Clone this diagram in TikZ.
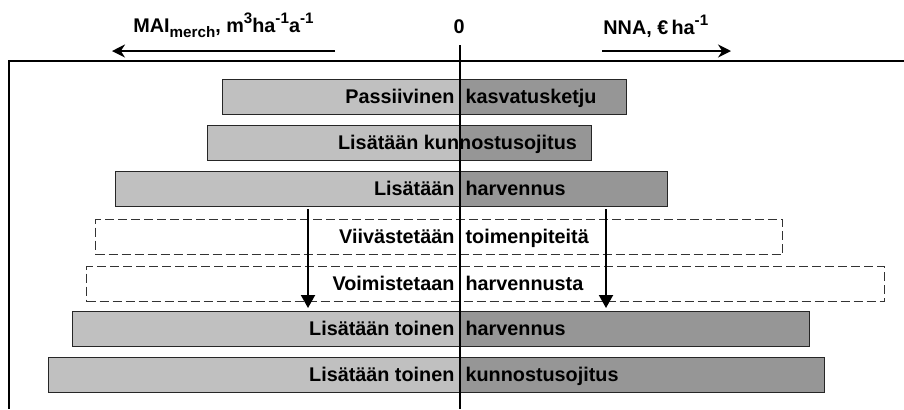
\documentclass[tikz,border=0pt]{standalone}
\usepackage{fontspec}
\setmainfont{Liberation Sans}
\usetikzlibrary{arrows.meta}
\definecolor{lightbar}{HTML}{C0C0C0}
\definecolor{darkbar}{HTML}{969696}
\newcommand\upidx[1]{\raisebox{0.42em}{\fontsize{7.6}{8}\selectfont #1}}
\newcommand\downidx[1]{\raisebox{-0.28em}{\fontsize{7.6}{8}\selectfont #1}}

\tikzset{
  bartext/.style={font=\bfseries\fontsize{9.9}{11}\selectfont, inner xsep=2.6pt, inner ysep=0pt},
  toplabel/.style={font=\bfseries\fontsize{9.9}{11}\selectfont, inner sep=0pt},
  barbox/.style={draw=black!85, line width=0.55pt, inner sep=0pt, anchor=north west, minimum height=17.5pt},
  dashbox/.style={barbox, draw=black!80, dash pattern=on 4.5pt off 2pt},
  axisarrow/.style={line width=1pt, -{Stealth[length=6.5pt,width=6.5pt]}},
  downarrow/.style={line width=1pt, -{Triangle[length=6.5pt,width=7pt]}, shorten <=1pt, shorten >=1.5pt}
}

\begin{document}
\begin{tikzpicture}[x=0.5pt,y=-0.5pt]
\useasboundingbox (0,0) rectangle (904,409);
\draw[line width=0.65pt] (904,61) -- (9,61) -- (9,409);

\node[toplabel, anchor=base west] (mai) at (133,32) {MAI\downidx{merch}, m\upidx{3}ha\upidx{-1}a\upidx{-1}};
\node[toplabel, anchor=base] (zero) at (459,33) {0};
\node[toplabel, anchor=base west] (nna) at (603,34) {NNA, €\,ha\upidx{-1}};
\coordinate (mai-a) at (335,51);
\coordinate (mai-b) at (112,51);
\coordinate (nna-a) at (602,51);
\coordinate (nna-b) at (731,51);
\draw[axisarrow] (mai-a) -- (mai-b);
\draw[axisarrow] (nna-a) -- (nna-b);

\foreach \t/\l/\r/\n in {79/222/626/passiivinen, 125/207/591/kunnostus, 171/115/667/harvennus, 311/72/809/toinenharv, 357/48/824/toinenkunn}{
  \fill[lightbar] (\l,\t) rectangle (460,\t+35);
  \fill[darkbar] (460,\t) rectangle (\r,\t+35);
  \node[barbox, minimum width={(\r-\l)*0.5pt}] (\n) at (\l,\t) {};
}
\node[dashbox, minimum width=343.5pt] (viivastys) at (95,219) {};
\node[dashbox, minimum width=399pt] (voimistus) at (86,266) {};

\foreach \t/\n/\a/\b in {79/passiivinen/Passiivinen/kasvatusketju, 171/harvennus/Lisätään/harvennus, 219/viivastys/Viivästetään/toimenpiteitä, 266/voimistus/Voimistetaan/harvennusta, 311/toinenharv/Lisätään toinen/harvennus, 357/toinenkunn/Lisätään toinen/kunnostusojitus}{
  \node[bartext, anchor=base east] (\n-l) at (460,\t+24) {\a};
  \node[bartext, anchor=base west] (\n-r) at (460,\t+24) {\b};
}
\node[bartext, anchor=base] (kunnostus-t) at (457.5,149) {Lisätään kunnostusojitus};

\coordinate (leftx) at (308,0);
\coordinate (rightx) at (606,0);
\draw[downarrow] (leftx |- harvennus.south) -- (leftx |- toinenharv.north);
\draw[downarrow] (rightx |- harvennus.south) -- (rightx |- toinenharv.north);

\coordinate (axistop) at (460,45);
\draw[line width=1pt] (axistop) -- (460,409);
\end{tikzpicture}
\end{document}
